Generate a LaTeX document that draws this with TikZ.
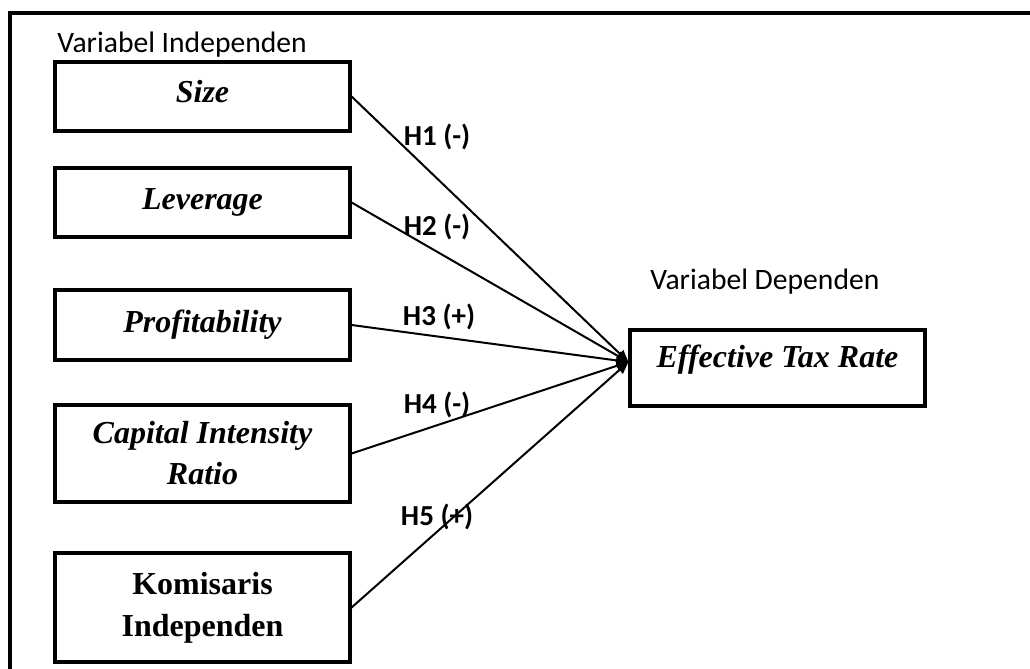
\documentclass[tikz,border=0pt]{standalone}
\usepackage{fontspec}
\setmainfont{Liberation Serif}
\newfontfamily\calibri{Carlito}[BoldFont={Carlito Bold}]
\usetikzlibrary{arrows.meta}
\tikzset{
	varbox/.style={draw, line width=1.6pt, minimum width=147.5pt, inner sep=0pt, align=center, font=\fontsize{16}{20.5}\selectfont\bfseries\itshape},
	hlabel/.style={inner sep=0pt, font=\calibri\bfseries\fontsize{14.5}{17}\selectfont},
	grouplabel/.style={anchor=west, inner sep=0pt, font=\calibri\fontsize{14.8}{18}\selectfont},
	hyparrow/.style={line width=1pt, -{Triangle[length=6pt,width=5pt]}}
}

\begin{document}
\begin{tikzpicture}[x=0.5pt, y=-0.5pt]
			%%%%% START %%%%%
			\useasboundingbox (0, 0) rectangle (1030, 669);
			
			% frame (cut at right and bottom)
			\draw[line width=2pt] (10, 700) -- (10, 13) -- (1060, 13);
			
			\node[grouplabel] (indep) at (57, 45) {Variabel Independen};
			\node[grouplabel] (dep) at (650, 282) {Variabel Dependen};
			
			\node[varbox, minimum height=34.5pt, text depth=5.5pt] (size) at (202.5, 96.5) {Size};
			\node[varbox, minimum height=34.5pt] (leverage) at (202.5, 202.5) {Leverage};
			\node[varbox, minimum height=35pt] (profit) at (202.5, 325) {Profitability};
			\node[varbox, minimum height=48.5pt] (capital) at (202.5, 453.5) {Capital Intensity\\Ratio};
			\node[varbox, minimum height=54.5pt, font=\fontsize{16}{21}\selectfont\bfseries] (komisaris) at (202.5, 607.5) {Komisaris\\Independen};
			
			\node[varbox, minimum height=38pt, text depth=11.5pt] (etr) at (777.5, 368) {Effective Tax Rate};
			\coordinate (tip) at ([yshift=3pt]etr.west);
			
			\draw[hyparrow] (size.east) -- (tip);
			\draw[hyparrow] (leverage.east) -- (tip);
			\draw[hyparrow] (profit.east) -- (tip);
			\draw[hyparrow] (capital.east) -- (tip);
			\draw[hyparrow] (komisaris.east) -- (tip);
			
			\node[hlabel] (h1) at (437, 137) {H1 (-)};
			\node[hlabel] (h2) at (437, 227) {H2 (-)};
			\node[hlabel] (h3) at (439, 317) {H3 (+)};
			\node[hlabel] (h4) at (437, 405) {H4 (-)};
			\node[hlabel] (h5) at (437, 517) {H5 (+)};
			%%%%% END %%%%%
\end{tikzpicture}
\end{document}
